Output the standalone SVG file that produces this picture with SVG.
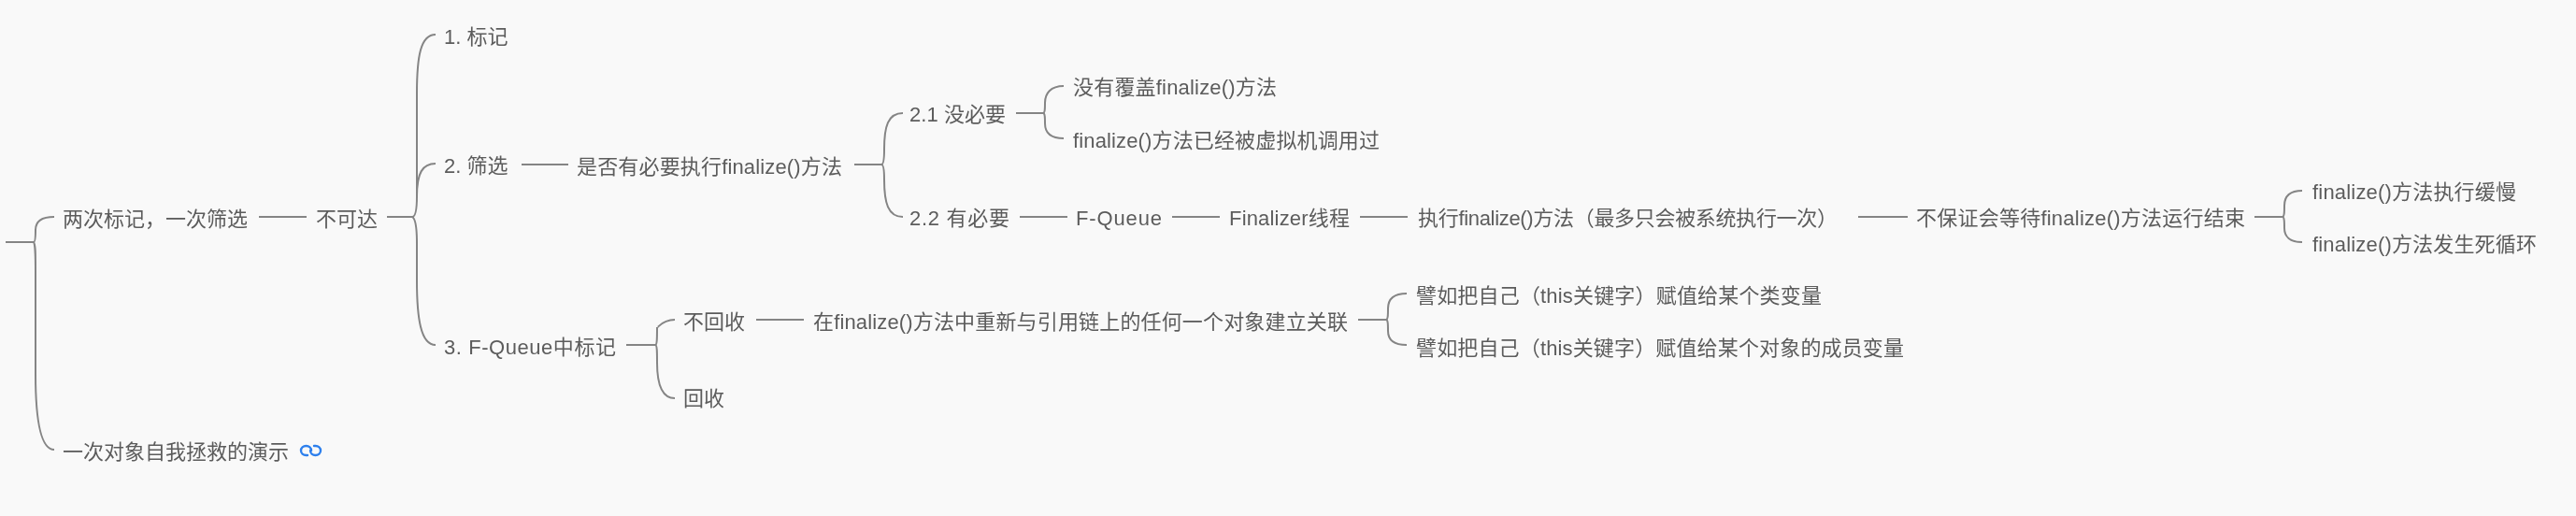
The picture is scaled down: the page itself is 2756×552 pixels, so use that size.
<svg xmlns="http://www.w3.org/2000/svg" width="2756" height="552" viewBox="0 0 2756 552">
<style>
text{font-family:"Liberation Sans","Noto Sans CJK SC",sans-serif;font-size:22px;fill:#5c5c5c;}
.c{fill:none;stroke:#858585;stroke-width:2;}
.i{fill:none;stroke:#2f80ed;stroke-width:2.400;stroke-linecap:round;}
</style>
<defs><filter id="soft" x="0" y="0" width="100%" height="100%" filterUnits="userSpaceOnUse"><feGaussianBlur stdDeviation="0.5"/></filter></defs>
<rect width="2756" height="552" fill="#f9f9f9"/>
<g filter="url(#soft)">
<g id="connectors" class="c">
<path d="M6 259H36C38 259 38 250 38 246C38 236 46 232 58 232"/>
<path d="M36 259C38 262 38 270 38 290V400C38 450 44 481 58 481"/>
<path d="M277 232H328"/>
<path d="M414 232H441C445 232 446 222 446 210V100C446 60 450 37 466 37"/>
<path d="M446 210C446 185 452 175 466 175"/>
<path d="M441 232C445 234 446 245 446 260V300C446 340 450 369 466 369"/>
<path d="M558 176H608"/>
<path d="M914 176H943C945 176 946 170 946 160C946 135 950 121 966 121"/>
<path d="M943 176C945 176 946 182 946 192C946 217 950 232 966 232"/>
<path d="M1087 121H1116C1118 121 1118 116 1118 110C1118 100 1124 92 1138 92"/>
<path d="M1116 121C1118 121 1118 126 1118 132C1118 142 1124 148 1138 148"/>
<path d="M1091 232H1142"/>
<path d="M1254 232H1305"/>
<path d="M1455 232H1506"/>
<path d="M1988 232H2041"/>
<path d="M2412 232H2442C2444 232 2444 226 2444 220C2444 210 2450 204 2463 204"/>
<path d="M2442 232C2444 232 2444 238 2444 244C2444 253 2450 259 2463 259"/>
<path d="M670 369H701C703 369 703 362 703 350C703 352 708 342 722 342"/>
<path d="M701 369C703 369 703 376 703 388C703 412 708 426 722 426"/>
<path d="M809 342H860"/>
<path d="M1453 342H1483C1485 342 1485 336 1485 330C1485 320 1491 314 1505 314"/>
<path d="M1483 342C1485 342 1485 348 1485 354C1485 363 1491 369 1505 369"/>
</g>
<g id="n1"><text x="67" y="242">两次标记，一次筛选</text></g>
<g id="n2"><text x="338" y="242">不可达</text></g>
<g id="n3"><text x="475" y="47">1. 标记</text></g>
<g id="n4"><text x="475" y="185">2. 筛选</text></g>
<g id="n5"><text x="475" y="379" textLength="184">3. F-Queue中标记</text></g>
<g id="n6"><text x="617" y="186" textLength="284">是否有必要执行finalize()方法</text></g>
<g id="n7"><text x="973" y="130" textLength="103">2.1 没必要</text></g>
<g id="n8"><text x="973" y="241" textLength="107">2.2 有必要</text></g>
<g id="n9"><text x="1148" y="101" textLength="218">没有覆盖finalize()方法</text></g>
<g id="n10"><text x="1148" y="158" textLength="328">finalize()方法已经被虚拟机调用过</text></g>
<g id="n11"><text x="1151" y="241" textLength="92">F-Queue</text></g>
<g id="n12"><text x="1315" y="241" textLength="129">Finalizer线程</text></g>
<g id="n13"><text x="1517" y="241" textLength="449">执行finalize()方法（最多只会被系统执行一次）</text></g>
<g id="n14"><text x="2050" y="241" textLength="352">不保证会等待finalize()方法运行结束</text></g>
<g id="n15"><text x="2474" y="213" textLength="218">finalize()方法执行缓慢</text></g>
<g id="n16"><text x="2474" y="269" textLength="240">finalize()方法发生死循环</text></g>
<g id="n17"><text x="731" y="352">不回收</text></g>
<g id="n18"><text x="731" y="434">回收</text></g>
<g id="n19"><text x="870" y="352" textLength="572">在finalize()方法中重新与引用链上的任何一个对象建立关联</text></g>
<g id="n20"><text x="1515" y="324" textLength="434">譬如把自己（this关键字）赋值给某个类变量</text></g>
<g id="n21"><text x="1515" y="380" textLength="522">譬如把自己（this关键字）赋值给某个对象的成员变量</text></g>
<g id="n22"><text x="67" y="491">一次对象自我拯救的演示</text>
<path class="i" d="M333 482a5.500 5 0 1 0-5.500 5H329M332 482a5.500 5 0 1 0 5.500-5H336"/></g>
</g>
</svg>
